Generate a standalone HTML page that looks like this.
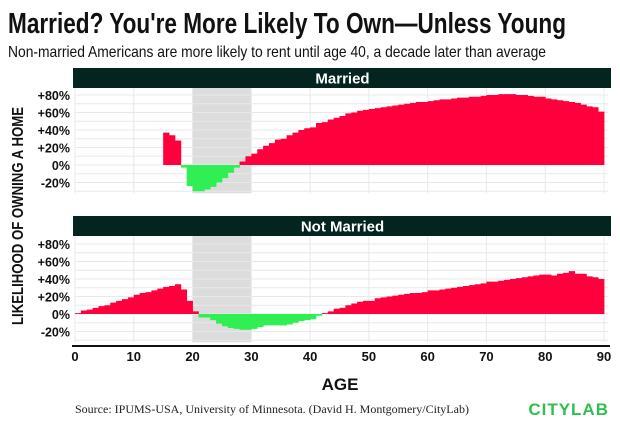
<!DOCTYPE html>
<html><head><meta charset="utf-8">
<style>
html,body{margin:0;padding:0;background:#fff;width:620px;height:428px;overflow:hidden}
svg{display:block}
text{font-family:"Liberation Sans Narrow","Liberation Sans",sans-serif}
</style></head>
<body>
<svg id="chart" width="620" height="428" viewBox="0 0 620 428">
<text x="8" y="33" font-size="29" font-weight="bold" fill="#111" textLength="558" lengthAdjust="spacingAndGlyphs">Married? You're More Likely To Own—Unless Young</text>
<text x="8" y="57" font-size="16" fill="#111" textLength="538" lengthAdjust="spacingAndGlyphs">Non-married Americans are more likely to rent until age 40, a decade later than average</text>
<g id="plots"></g>
<text x="0" y="0" transform="translate(23,216) rotate(-90)" text-anchor="middle" font-size="16" font-weight="bold" fill="#111" textLength="218" lengthAdjust="spacingAndGlyphs">LIKELIHOOD OF OWNING A HOME</text>
<text x="340" y="390" text-anchor="middle" font-size="17" font-weight="bold" fill="#111">AGE</text>
<text x="75" y="413" font-size="12" fill="#222" style="font-family:'Liberation Serif',serif">Source: IPUMS-USA, University of Minnesota. (David H. Montgomery/CityLab)</text>
<text x="609" y="415" text-anchor="end" font-size="17" font-weight="bold" fill="#2fbf4f" letter-spacing="1" style="font-family:'Liberation Sans',sans-serif">CITYLAB</text>
</svg>
<script>
const xTicks = [0,10,20,30,40,50,60,70,80,90];
const yTicks = [-20,0,20,40,60,80];
const marriedAges = [15,16,17,18,19,20,21,22,23,24,25,26,27,28,29,30,31,32,33,34,35,36,37,38,39,40,41,42,43,44,45,46,47,48,49,50,51,52,53,54,55,56,57,58,59,60,61,62,63,64,65,66,67,68,69,70,71,72,73,74,75,76,77,78,79,80,81,82,83,84,85,86,87,88,89];
const marriedValues = [37,34,28,-3,-24,-30,-30,-28,-25,-20,-15,-9,-3,4,10,13,18,22,25,29,30,34,37,40,42,43,48,49,52,54,56,59,60,62,63,64,65,66,67,68,69,70,71,72,72,73,74,75,75,76,77,77,78,78,79,80,80,81,81,81,80,80,79,78,78,76,75,74,73,72,71,69,67,66,61];
const singleAges = [0,1,2,3,4,5,6,7,8,9,10,11,12,13,14,15,16,17,18,19,20,21,22,23,24,25,26,27,28,29,30,31,32,33,34,35,36,37,38,39,40,41,42,43,44,45,46,47,48,49,50,51,52,53,54,55,56,57,58,59,60,61,62,63,64,65,66,67,68,69,70,71,72,73,74,75,76,77,78,79,80,81,82,83,84,85,86,87,88,89];
const singleValues = [1,4,5,7,9,10,13,15,17,19,22,24,25,27,29,31,32,34,28,15,3,-4,-4,-7,-11,-14,-16,-17,-18,-18,-17,-15,-13,-13,-13,-13,-12,-10,-8,-7,-6,-2,1,3,6,7,10,12,14,15,15,18,19,20,21,22,23,24,24,25,27,27,28,29,30,31,32,33,34,35,37,37,38,39,40,41,42,43,44,45,45,44,46,47,49,46,46,43,42,40];
const panels = [
  {title:'Married', ages:marriedAges, values:marriedValues, top:68, zero:165},
  {title:'Not Married', ages:singleAges, values:singleValues, top:216, zero:314}
];
const NS='http://www.w3.org/2000/svg';
const g=document.getElementById('plots');
const x0=75, x1=604;
function xs(a){return x0+(x1-x0)*a/90;}
const pxPer=70/80;
function mk(tag,attrs,parent){const e=document.createElementNS(NS,tag);for(const k in attrs)e.setAttribute(k,attrs[k]);(parent||g).appendChild(e);return e;}
panels.forEach((p,pi)=>{
  const ys=v=>p.zero - v*pxPer;
  const pg=mk('g',{});
  
  
  const plotTop=p.top+20, plotBot=ys(-30)+2;
  const sh=mk('rect',{x:xs(20),y:plotTop,width:xs(30)-xs(20),height:plotBot-plotTop,fill:'#dcdcdc'},pg);
  
  
  for(let v=-30;v<=80;v+=10){mk('line',{x1:x0,x2:x1+4,y1:ys(v),y2:ys(v),stroke:'#e8e8e8','stroke-width':1},pg);}
  xTicks.forEach(t=>{mk('line',{x1:xs(t),x2:xs(t),y1:plotTop,y2:plotBot,stroke:'#e8e8e8','stroke-width':1},pg);});
  p.ages.forEach((a,i)=>{
    const v=p.values[i];
    const y=v>=0?ys(v):ys(0);
    const h=Math.abs(ys(v)-ys(0));
    const r=mk('rect',{x:xs(a),y:y,width:xs(a+1)-xs(a)+0.4,height:Math.max(h,0.8),fill:v>=0?'#ff003c':'#2fef55'},pg);
    
    
  });
  const hd=mk('rect',{x:x0-2,y:p.top,width:x1-x0+9,height:20,fill:'#03241f'},pg);
  
  
  const ht=mk('text',{x:(x0+x1)/2+3,y:p.top+15.5,'text-anchor':'middle','font-size':15,'font-weight':'bold',fill:'#fff'},pg);
  ht.textContent=p.title;
  
  
  yTicks.forEach(t=>{
    const tx=mk('text',{x:70,y:ys(t)+5,'text-anchor':'end','font-size':12.5,'font-weight':'bold',fill:'#111'},pg);
    tx.textContent=(t>0?'+':'')+t+'%';
    
    
  });
});
const ax=mk('line',{x1:x0-3,x2:x1+6,y1:346,y2:346,stroke:'#111','stroke-width':2});


xTicks.forEach(t=>{
  const tx=mk('text',{x:xs(t),y:361,'text-anchor':'middle','font-size':13,'font-weight':'bold',fill:'#111'});
  tx.textContent=t;
  
  
});
</script>
</body></html>
